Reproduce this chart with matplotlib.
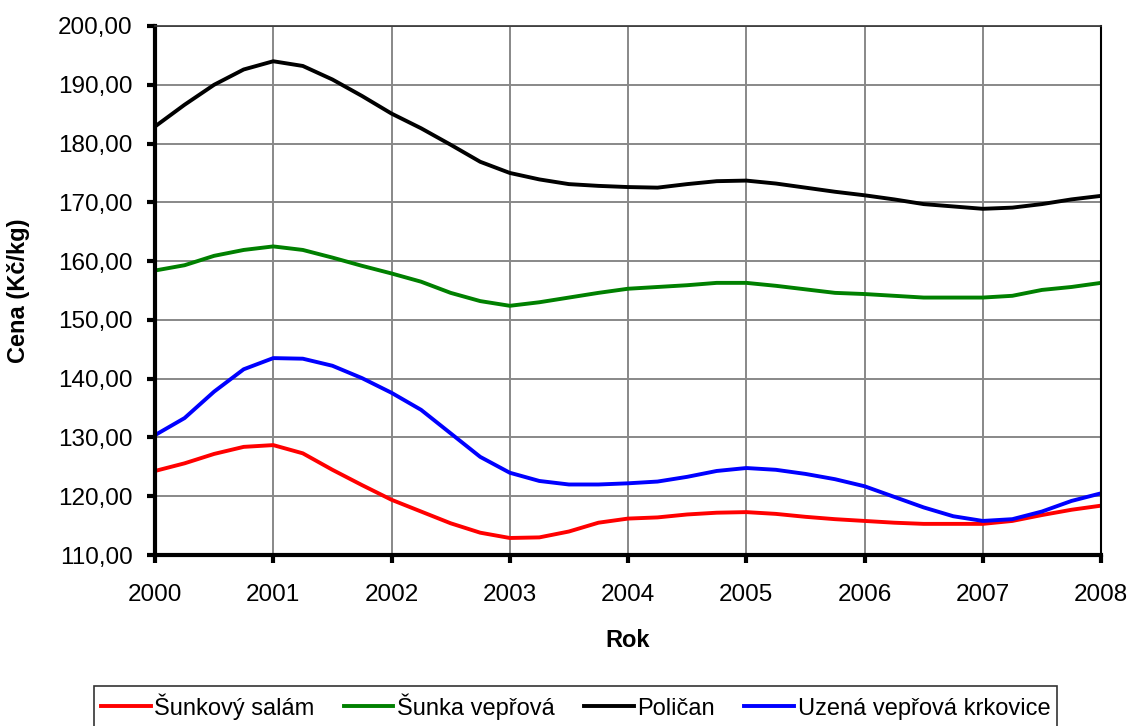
import numpy as np
import matplotlib.pyplot as plt

plt.rcParams['font.family'] = ['Liberation Sans', 'DejaVu Sans']

# ctvrtletni data 2000-2008
roky = np.arange(33) / 4 + 2000

sunkovy_salam = [124.3, 125.6, 127.2, 128.4, 128.7, 127.3, 124.5, 121.9, 119.4, 117.4,
                 115.4, 113.8, 112.9, 113.0, 114.0, 115.5, 116.2, 116.4, 116.9, 117.2,
                 117.3, 117.0, 116.5, 116.1, 115.8, 115.5, 115.3, 115.3, 115.3, 115.8,
                 116.8, 117.7, 118.4]
sunka_veprova = [158.4, 159.3, 160.9, 161.9, 162.5, 161.9, 160.6, 159.2, 157.9, 156.5,
                 154.6, 153.2, 152.4, 153.0, 153.8, 154.6, 155.3, 155.6, 155.9, 156.3,
                 156.3, 155.8, 155.2, 154.6, 154.4, 154.1, 153.8, 153.8, 153.8, 154.1,
                 155.1, 155.6, 156.3]
polican = [182.9, 186.6, 190.0, 192.6, 194.0, 193.2, 190.9, 188.1, 185.1, 182.6,
           179.8, 176.9, 175.0, 173.9, 173.1, 172.8, 172.6, 172.5, 173.1, 173.6,
           173.7, 173.2, 172.5, 171.8, 171.2, 170.5, 169.7, 169.3, 168.9, 169.1,
           169.7, 170.5, 171.1]
uzena_krkovice = [130.4, 133.3, 137.8, 141.6, 143.5, 143.4, 142.2, 140.1, 137.6, 134.7,
                  130.7, 126.7, 124.0, 122.6, 122.0, 122.0, 122.2, 122.5, 123.3, 124.3,
                  124.8, 124.5, 123.8, 122.9, 121.7, 119.9, 118.1, 116.6, 115.8, 116.1,
                  117.4, 119.2, 120.5]

fig = plt.figure(figsize=(11.33, 7.26), dpi=100)
ax = fig.add_axes([0.1368, 0.2355, 0.835, 0.7287])

ax.plot(roky, sunkovy_salam, color='#ff0000', lw=2.8, label='Šunkový salám')
ax.plot(roky, sunka_veprova, color='#008000', lw=2.8, label='Šunka vepřová')
ax.plot(roky, polican, color='#000000', lw=2.8, label='Poličan')
ax.plot(roky, uzena_krkovice, color='#0000ff', lw=2.8, label='Uzená vepřová krkovice')

ax.set_xlim(2000, 2008)
ax.set_ylim(110, 200)
ax.set_xticks(range(2000, 2009))
ax.set_yticks(range(110, 201, 10))
ax.set_yticklabels([f'{v},00' for v in range(110, 201, 10)])
ax.grid(True, color='#888888', lw=1.4)
ax.set_axisbelow(True)

ax.spines['left'].set_linewidth(3)
ax.spines['bottom'].set_linewidth(3)
ax.spines['top'].set_linewidth(1.2)
ax.spines['top'].set_color('#333333')
ax.spines['right'].set_linewidth(1.5)
ax.tick_params(axis='both', labelsize=17.5, width=3, length=6, direction='out')
ax.tick_params(axis='y', pad=10)
ax.tick_params(axis='x', pad=15)

ax.set_xlabel('Rok', fontsize=17, fontweight='bold')
ax.set_ylabel('Cena (Kč/kg)', fontsize=17, fontweight='bold')
ax.xaxis.set_label_coords(0.5, -0.161)
ax.yaxis.set_label_coords(-0.144, 0.5)
ax.xaxis.label.set_va('center')
ax.yaxis.label.set_va('center')

leg = fig.legend(loc='upper center', bbox_to_anchor=(0.508, 0.0551), ncol=4, fontsize=17,
                 frameon=True, fancybox=False, edgecolor='black', handlelength=2.1,
                 handletextpad=0.15, columnspacing=1.25, borderpad=0.3,
                 borderaxespad=0)
leg.get_frame().set_linewidth(1.2)

fig.savefig('out.png', dpi=100)
